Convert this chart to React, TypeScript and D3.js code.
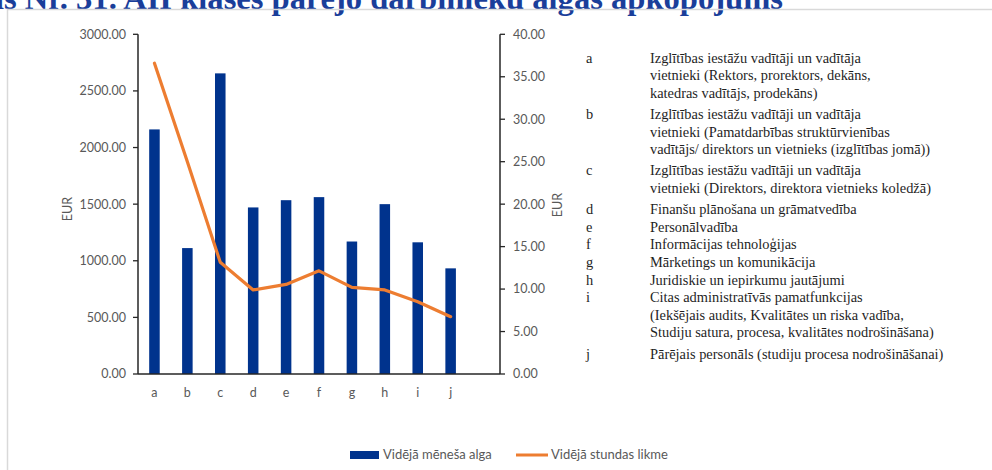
import React from "react";
import * as d3 from "d3";

const categories = ["a", "b", "c", "d", "e", "f", "g", "h", "i", "j"];
const monthlySalary = [2160, 1112, 2655, 1471, 1535, 1562, 1170, 1500, 1163, 933];
const hourlyRate = [36.6, 25.0, 13.15, 9.9, 10.55, 12.15, 10.2, 9.9, 8.5, 6.75];
const leftTicks = [0, 500, 1000, 1500, 2000, 2500, 3000];
const rightTicks = [0, 5, 10, 15, 20, 25, 30, 35, 40];
const seriesNames = ["Vidējā mēneša alga", "Vidējā stundas likme"];
const titleText = "Attēls Nr. 31. AII klases pārējo darbinieku algas apkopojums";
const axisTitle = "EUR";
const legendEntries: { key: string; lines: string[] }[] = [
  { key: "a", lines: ["Izglītības iestāžu vadītāji un vadītāja", "vietnieki (Rektors, prorektors, dekāns,", "katedras vadītājs, prodekāns)"] },
  { key: "b", lines: ["Izglītības iestāžu vadītāji un vadītāja", "vietnieki (Pamatdarbības struktūrvienības", "vadītājs/ direktors un vietnieks (izglītības jomā))"] },
  { key: "c", lines: ["Izglītības iestāžu vadītāji un vadītāja", "vietnieki (Direktors, direktora vietnieks koledžā)"] },
  { key: "d", lines: ["Finanšu plānošana un grāmatvedība"] },
  { key: "e", lines: ["Personālvadība"] },
  { key: "f", lines: ["Informācijas tehnoloģijas"] },
  { key: "g", lines: ["Mārketings un komunikācija"] },
  { key: "h", lines: ["Juridiskie un iepirkumu jautājumi"] },
  { key: "i", lines: ["Citas administratīvās pamatfunkcijas", "(Iekšējais audits, Kvalitātes un riska vadība,", "Studiju satura, procesa, kvalitātes nodrošināšana)"] },
  { key: "j", lines: ["Pārējais personāls (studiju procesa nodrošināšanai)"] },
];

const BAR = "#00338D";
const LINE = "#ED7D31";
const GREY = "#595959";
const AXIS = "#262626";

export default function App() {
  const left = 138;
  const right = 500;
  const top = 34.3;
  const bottom = 374;
  const slots = 11;

  const x = d3
    .scaleBand<string>()
    .domain(categories)
    .range([left, left + ((right - left) * categories.length) / slots])
    .paddingInner(0.68)
    .paddingOuter(0.34);
  const yL = d3.scaleLinear().domain([0, 3000]).range([bottom, top]);
  const yR = d3.scaleLinear().domain([0, 40]).range([bottom, top]);

  const line = d3
    .line<number>()
    .x((_, i) => (x(categories[i]) as number) + x.bandwidth() / 2)
    .y((d) => yR(d));

  const tickFont = "Lato, 'Liberation Sans', sans-serif";
  const serif = "'Liberation Serif', 'Times New Roman', serif";

  // legend layout
  const lineH = 17.6;
  const gap = 3.6;
  let cy = 62.5;
  const legendRows: { key: string; lines: string[]; y: number }[] = [];
  legendEntries.forEach((e) => {
    legendRows.push({ ...e, y: cy });
    cy += e.lines.length * lineH + (e.lines.length > 1 ? gap : 0);
  });

  return (
    <svg
      width={992}
      height={470}
      style={{ position: "absolute", left: 0, top: 0, background: "#fff" }}
    >
      <rect x={0} y={0} width={992} height={470} fill="#fff" />
      {/* title (cut off at top, as in the source image) */}
      <text
        x={783}
        y={9}
        textAnchor="end"
        fontFamily={serif}
        fontWeight="bold"
        fontSize={32.6}
        fill="#1A3E9A"
      >
        {titleText}
      </text>
      {/* panel border */}
      <path d="M7.5,470 V9.5 H992" fill="none" stroke="#d9d9d9" strokeWidth={1.5} />

      {/* bars */}
      {monthlySalary.map((v, i) => (
        <rect
          key={categories[i]}
          x={x(categories[i])}
          y={yL(v)}
          width={x.bandwidth()}
          height={yL(0) - yL(v)}
          fill={BAR}
        />
      ))}

      {/* line */}
      <path d={line(hourlyRate) || ""} fill="none" stroke={LINE} strokeWidth={3.2} strokeLinejoin="round" strokeLinecap="round" />

      {/* left axis */}
      <line x1={left} x2={left} y1={yL(3000)} y2={bottom} stroke={AXIS} strokeWidth={1.5} />
      {leftTicks.map((t) => (
        <g key={"l" + t}>
          <line x1={left - 5} x2={left} y1={yL(t)} y2={yL(t)} stroke={AXIS} strokeWidth={1.3} />
          <text x={126} y={yL(t)} dy="0.35em" textAnchor="end" fontFamily={tickFont} fontSize={12.5} fill={GREY}>
            {d3.format(".2f")(t)}
          </text>
        </g>
      ))}
      {/* right axis */}
      <line x1={right} x2={right} y1={yR(40)} y2={bottom} stroke={AXIS} strokeWidth={1.5} />
      {rightTicks.map((t) => (
        <g key={"r" + t}>
          <line x1={right} x2={right + 5} y1={yR(t)} y2={yR(t)} stroke={AXIS} strokeWidth={1.3} />
          <text x={513} y={yR(t)} dy="0.35em" textAnchor="start" fontFamily={tickFont} fontSize={12.5} fill={GREY}>
            {d3.format(".2f")(t)}
          </text>
        </g>
      ))}
      {/* x axis */}
      <line x1={left} x2={right} y1={bottom} y2={bottom} stroke={AXIS} strokeWidth={1.5} />
      {categories.map((c) => (
        <text
          key={"x" + c}
          x={(x(c) as number) + x.bandwidth() / 2}
          y={397}
          textAnchor="middle"
          fontFamily={tickFont}
          fontSize={12.5}
          fill={GREY}
        >
          {c}
        </text>
      ))}

      {/* axis titles */}
      <text transform="translate(72,209) rotate(-90)" textAnchor="middle" fontFamily={tickFont} fontSize={12.5} fill={GREY}>
        {axisTitle}
      </text>
      <text transform="translate(562,205) rotate(-90)" textAnchor="middle" fontFamily={tickFont} fontSize={12.5} fill={GREY}>
        {axisTitle}
      </text>

      {/* category legend */}
      {legendRows.map((r) => (
        <g key={"lg" + r.key} fontFamily={serif} fontSize={14.4} fill="#1f1f1f">
          <text x={586} y={r.y}>{r.key}</text>
          {r.lines.map((l, k) => (
            <text key={k} x={650} y={r.y + k * lineH}>
              {l}
            </text>
          ))}
        </g>
      ))}

      {/* series legend */}
      <rect x={350} y={451} width={29} height={8} fill={BAR} />
      <text x={383} y={459} fontFamily={tickFont} fontSize={13} fill={GREY}>
        {seriesNames[0]}
      </text>
      <line x1={516} x2={548} y1={455} y2={455} stroke={LINE} strokeWidth={3} />
      <text x={551} y={459} fontFamily={tickFont} fontSize={13} fill={GREY}>
        {seriesNames[1]}
      </text>
    </svg>
  );
}
